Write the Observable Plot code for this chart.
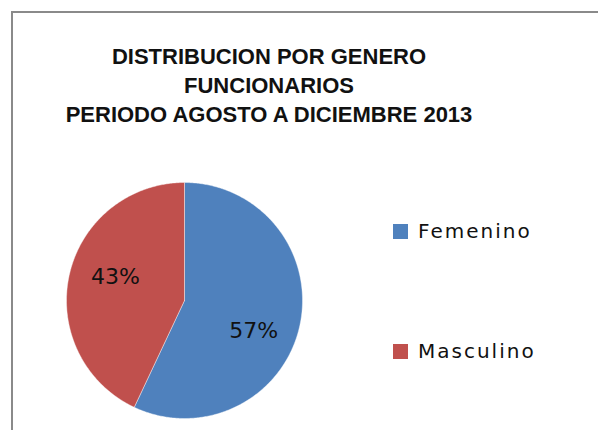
<!DOCTYPE html>
<html><head><meta charset="utf-8">
<script src="https://cdn.jsdelivr.net/npm/d3@7"></script>
<script src="https://cdn.jsdelivr.net/npm/@observablehq/plot@0.6"></script>
<style>
html,body{margin:0;padding:0;background:#fff;}
#wrap{position:relative;width:598px;height:430px;overflow:hidden;background:#fff;}
#frame{position:absolute;left:11px;top:11px;width:700px;height:500px;border-left:2px solid #8a8a8a;border-top:2px solid #8a8a8a;}
#title{position:absolute;left:0;width:538px;top:42px;text-align:center;font-family:"Liberation Sans Narrow","Arial Narrow",sans-serif;font-weight:bold;font-size:22px;line-height:29px;color:#111;}
#pie{position:absolute;left:64px;top:180px;}
.leg{position:absolute;left:393px;font-family:"DejaVu Sans",sans-serif;font-size:20px;letter-spacing:2px;color:#111;display:flex;align-items:center;}
.sw{width:15px;height:15px;margin-right:10px;}
</style></head>
<body><div id="wrap"><div id="frame"></div>
<div id="title"></div>
<div id="pie"></div>
<div id="legend"></div>
</div>
<script>
const titleLines = ["DISTRIBUCION POR GENERO","FUNCIONARIOS","PERIODO AGOSTO A DICIEMBRE 2013"];
const categories = ["Femenino","Masculino"];
const values = [57,43];
const colors = ["#4F81BD","#C0504D"];
const labels = ["57%","43%"];

document.getElementById("title").innerHTML = titleLines.join("<br>");

const data = categories.map((c,i)=>({name:c, value:values[i], label:labels[i]}));
const arcs = d3.pie().sort(null).value(d=>d.value)(data);

// polygon outline of each slice (center + sampled arc)
const pts = [];
arcs.forEach(a=>{
  pts.push({name:a.data.name, x:0, y:0});
  const n = Math.max(2, Math.ceil((a.endAngle-a.startAngle)/0.01));
  for(let k=0;k<=n;k++){
    const t = a.startAngle + (a.endAngle-a.startAngle)*k/n;
    pts.push({name:a.data.name, x:Math.sin(t), y:Math.cos(t)});
  }
  pts.push({name:a.data.name, x:0, y:0});
});
const labelDy = [15,-8];
const labelPos = arcs.map((a,i)=>{
  const m=(a.startAngle+a.endAngle)/2, r=0.6;
  return {label:a.data.label, x:r*Math.sin(m), y:r*Math.cos(m), dy:labelDy[i]};
});

const chart = Plot.plot({
  width:240, height:240, margin:2,
  x:{domain:[-1,1], axis:null},
  y:{domain:[-1,1], axis:null},
  color:{domain:categories, range:colors},
  marks:[
    Plot.line(pts,{x:"x",y:"y",z:"name",fill:"name",stroke:"#ffffff",strokeOpacity:0.5,strokeWidth:0.8,curve:"linear"}),
    ...labelPos.map(l=>Plot.text([l],{x:"x",y:"y",text:"label",dy:l.dy,fontSize:22,fill:"#111",fontFamily:"DejaVu Sans"}))
  ]
});
document.getElementById("pie").appendChild(chart);

const leg = document.getElementById("legend");
const legTops = [219,339];
categories.forEach((c,i)=>{
  const d=document.createElement("div");
  d.className="leg"; d.style.top=legTops[i]+"px";
  d.innerHTML=`<span class="sw" style="background:${colors[i]}"></span><span>${c}</span>`;
  leg.appendChild(d);
});
</script></body></html>
